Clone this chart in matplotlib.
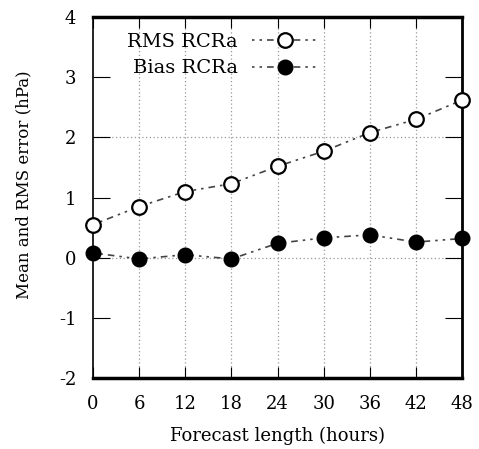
import matplotlib
matplotlib.use("Agg")
import matplotlib.pyplot as plt

hours = [0, 6, 12, 18, 24, 30, 36, 42, 48]
rms = [0.55, 0.85, 1.10, 1.23, 1.52, 1.77, 2.08, 2.30, 2.62]
bias = [0.08, -0.02, 0.05, -0.02, 0.24, 0.33, 0.38, 0.26, 0.32]
xticks = [0, 6, 12, 18, 24, 30, 36, 42, 48]
yticks = [-2, -1, 0, 1, 2, 3, 4]

plt.rcParams['font.family'] = ['DejaVu Serif']
plt.rcParams['axes.unicode_minus'] = False

fig = plt.figure(figsize=(4.79, 4.49), dpi=100)
ax = fig.add_axes([0.194, 0.158, 0.771, 0.804])

ls = (0, (1.5, 3, 1.5, 3, 4, 3))
ax.plot(hours, rms, linestyle=ls, color='#444444', lw=1.2, marker='o', ms=10.5,
        mfc='white', mec='black', mew=1.6, label='RMS RCRa', clip_on=False, zorder=3)
ax.plot(hours, bias, linestyle=ls, color='#444444', lw=1.2, marker='o', ms=10.5,
        mfc='black', mec='black', label='Bias RCRa', clip_on=False, zorder=3)

ax.set_xlim(0, 48)
ax.set_ylim(-2, 4)
ax.set_xticks(xticks)
ax.set_yticks(yticks)
ax.tick_params(direction='in', top=True, right=True, labelsize=13, pad=12)
ax.tick_params(axis='y', length=12)
ax.tick_params(axis='x', length=8)

for x in xticks[1:-1]:
    ax.axvline(x, color='#999999', lw=0.9, ls=(0, (1, 2)), zorder=0)
for y in [0, 2]:
    ax.axhline(y, color='#999999', lw=0.9, ls=(0, (1, 2)), zorder=0)

for side, w in [('top', 2.5), ('bottom', 2.5), ('left', 1.2), ('right', 2.0)]:
    ax.spines[side].set_linewidth(w)

ax.set_xlabel('Forecast length (hours)', fontsize=13, labelpad=10)
ax.set_ylabel('Mean and RMS error (hPa)', fontsize=12)
ax.yaxis.set_label_coords(-0.163, 0.535)

leg = ax.legend(loc='upper left', markerfirst=False, frameon=False, fontsize=14,
                handlelength=3.4, handletextpad=0.75, borderaxespad=0.4,
                labelspacing=0.45, bbox_to_anchor=(0.05, 1.0))

fig.savefig('out.png', dpi=100)
